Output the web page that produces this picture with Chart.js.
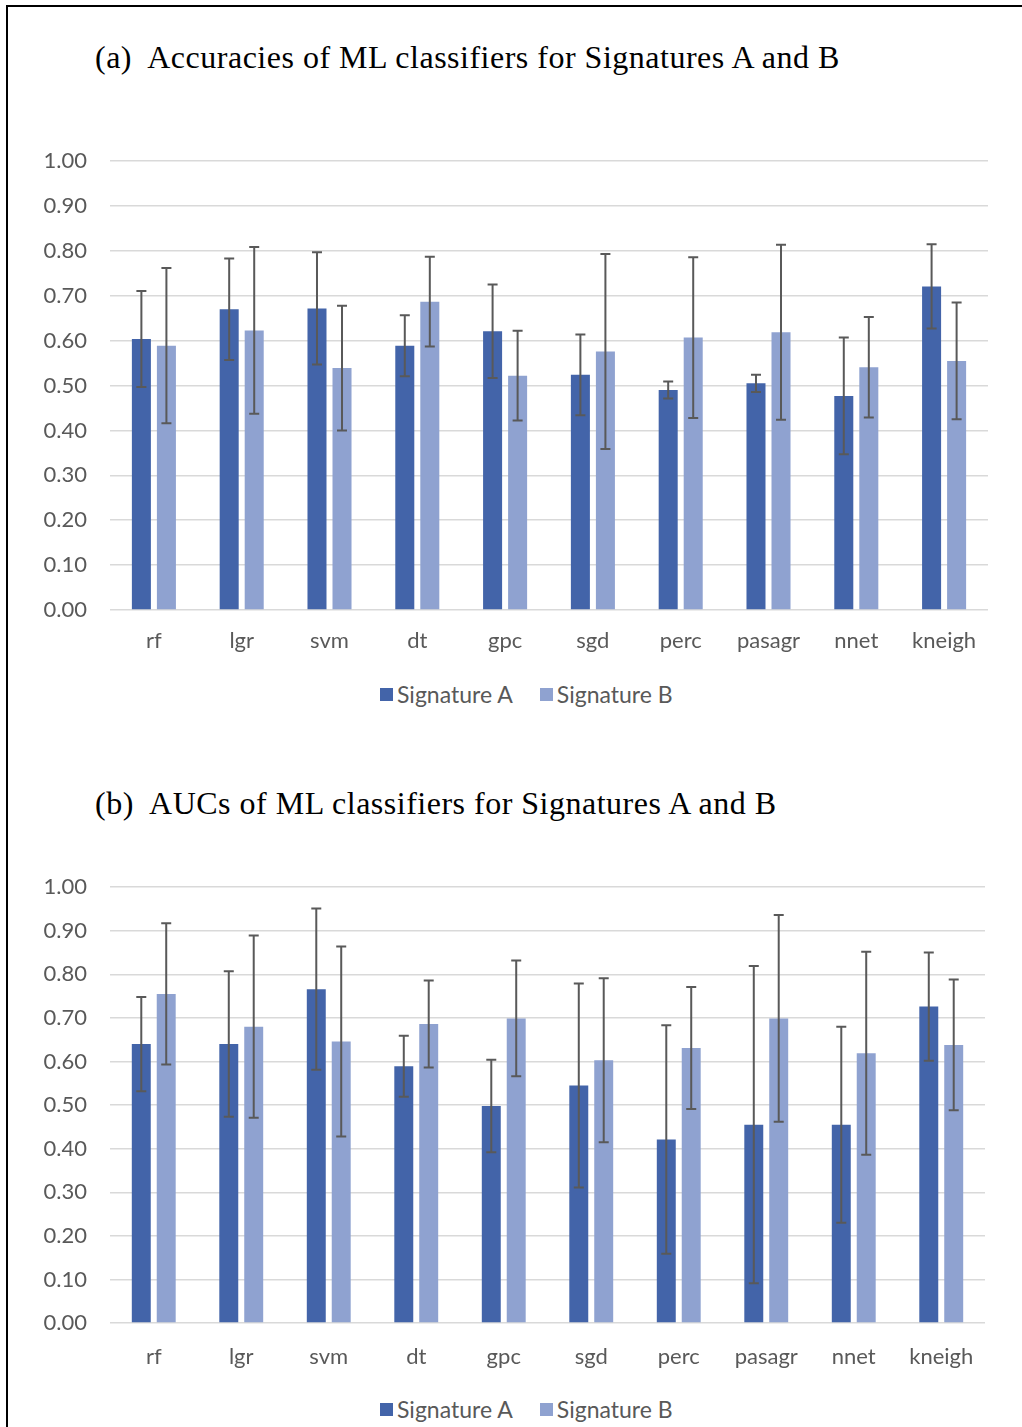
<!DOCTYPE html>
<html>
<head>
<meta charset="utf-8">
<script src="https://cdn.jsdelivr.net/npm/chart.js@4"></script>
<style>
  html, body { margin: 0; padding: 0; background: #fff; }
  body { width: 1022px; height: 1427px; position: relative; overflow: hidden; }
  .frame { position: absolute; left: 6px; top: 5px; right: -10px; bottom: -10px;
           border-left: 2px solid #000; border-top: 2px solid #000; }
  .title { position: absolute; left: 95px; font-family: "Liberation Serif", "Times New Roman", serif;
           font-size: 32px; letter-spacing: 0.5px; color: #000; white-space: pre; line-height: 1; }
  canvas { position: absolute; left: 0; }
  .legend { position: absolute; left: 380px; display: flex; align-items: center;
            font-family: Lato, "Open Sans", sans-serif; font-size: 23px; color: #595959; line-height: 1; }
  .legend .sw { display: inline-block; width: 13px; height: 13px; margin-right: 4px; }
  .legend .gap { display: inline-block; width: 27px; }
</style>
</head>
<body>
<div class="frame"></div>

<div class="title" style="top:41px">(a)  Accuracies of ML classifiers for Signatures A and B</div>
<canvas id="chartA" width="1022" height="540" style="top:125px"></canvas>
<div class="legend" style="top:683px">
  <span class="sw" style="background:#4364A9"></span>Signature A<span class="gap"></span>
  <span class="sw" style="background:#8FA2D0"></span>Signature B
</div>

<div class="title" style="top:787px">(b)  AUCs of ML classifiers for Signatures A and B</div>
<canvas id="chartB" width="1022" height="520" style="top:851px"></canvas>
<div class="legend" style="top:1398px">
  <span class="sw" style="background:#4364A9"></span>Signature A<span class="gap"></span>
  <span class="sw" style="background:#8FA2D0"></span>Signature B
</div>

<script>
// Classifiers compared
const classifiers = ['rf', 'lgr', 'svm', 'dt', 'gpc', 'sgd', 'perc', 'pasagr', 'nnet', 'kneigh'];
const seriesNames = ['Signature A', 'Signature B'];

// (a) accuracy means and standard deviations
const accA    = [0.604, 0.670, 0.672, 0.589, 0.621, 0.524, 0.490, 0.505, 0.477, 0.721];
const accAErr = [0.107, 0.113, 0.125, 0.068, 0.104, 0.090, 0.019, 0.019, 0.130, 0.094];
const accB    = [0.589, 0.623, 0.539, 0.687, 0.522, 0.576, 0.607, 0.619, 0.541, 0.555];
const accBErr = [0.173, 0.186, 0.139, 0.100, 0.100, 0.217, 0.179, 0.195, 0.112, 0.130];

// (b) AUC means and standard deviations
const aucA    = [0.640, 0.640, 0.766, 0.589, 0.498, 0.545, 0.421, 0.455, 0.455, 0.726];
const aucAErr = [0.108, 0.167, 0.185, 0.070, 0.106, 0.234, 0.262, 0.364, 0.225, 0.124];
const aucB    = [0.755, 0.680, 0.646, 0.686, 0.699, 0.603, 0.631, 0.699, 0.619, 0.638];
const aucBErr = [0.162, 0.209, 0.218, 0.100, 0.133, 0.188, 0.140, 0.237, 0.233, 0.150];

// Y axis ticks
const yTicks = [0, 0.1, 0.2, 0.3, 0.4, 0.5, 0.6, 0.7, 0.8, 0.9, 1.0];

const colorA = '#4364A9';
const colorB = '#8FA2D0';
const textGrey = '#595959';

// Draws symmetric error bars (mean ± sd) on top of each bar
const errorBars = {
  id: 'errorBars',
  afterDatasetsDraw(chart) {
    const ctx = chart.ctx;
    const y = chart.scales.y;
    ctx.save();
    ctx.strokeStyle = '#595959';
    ctx.lineWidth = 2;
    chart.data.datasets.forEach((ds, di) => {
      const meta = chart.getDatasetMeta(di);
      meta.data.forEach((bar, i) => {
        const v = ds.data[i], e = ds.errors[i];
        const yTop = y.getPixelForValue(v + e);
        const yBot = y.getPixelForValue(v - e);
        const x = bar.x, cap = 5;
        ctx.beginPath();
        ctx.moveTo(x, yTop); ctx.lineTo(x, yBot);
        ctx.moveTo(x - cap, yTop); ctx.lineTo(x + cap, yTop);
        ctx.moveTo(x - cap, yBot); ctx.lineTo(x + cap, yBot);
        ctx.stroke();
      });
    });
    ctx.restore();
  }
};

function makeChart(id, a, aErr, b, bErr, opts) {
  return new Chart(document.getElementById(id), {
    type: 'bar',
    data: {
      labels: classifiers,
      datasets: [
        { label: seriesNames[0], data: a, errors: aErr, backgroundColor: colorA },
        { label: seriesNames[1], data: b, errors: bErr, backgroundColor: colorB }
      ]
    },
    options: {
      responsive: false,
      animation: false,
      devicePixelRatio: 1,
      categoryPercentage: 0.57,
      barPercentage: 0.76,
      layout: { padding: { top: 25, left: 0, right: opts.right, bottom: 0 } },
      plugins: { legend: { display: false }, tooltip: { enabled: false } },
      scales: {
        x: {
          grid: { display: false, drawTicks: false },
          border: { display: false },
          ticks: { color: textGrey, font: { family: 'Lato', size: 22 }, padding: opts.xPad, maxRotation: 0 },
          afterFit(s) { s.height = opts.xHeight; }
        },
        y: {
          min: 0, max: 1,
          afterBuildTicks(s) { s.ticks = yTicks.map(v => ({ value: v })); },
          grid: { color: '#d9d9d9', lineWidth: 1.5, drawTicks: false },
          border: { display: false },
          ticks: {
            color: textGrey, font: { family: 'Lato', size: 22 }, padding: 23,
            callback: v => Number(v).toFixed(2)
          },
          afterFit(s) { s.width = 110; }
        }
      }
    },
    plugins: [errorBars]
  });
}

makeChart('chartA', accA, accAErr, accB, accBErr, { right: 34, xPad: 18, xHeight: 55 });
makeChart('chartB', aucA, aucAErr, aucB, aucBErr, { right: 37, xPad: 21, xHeight: 48 });
</script>
</body>
</html>
